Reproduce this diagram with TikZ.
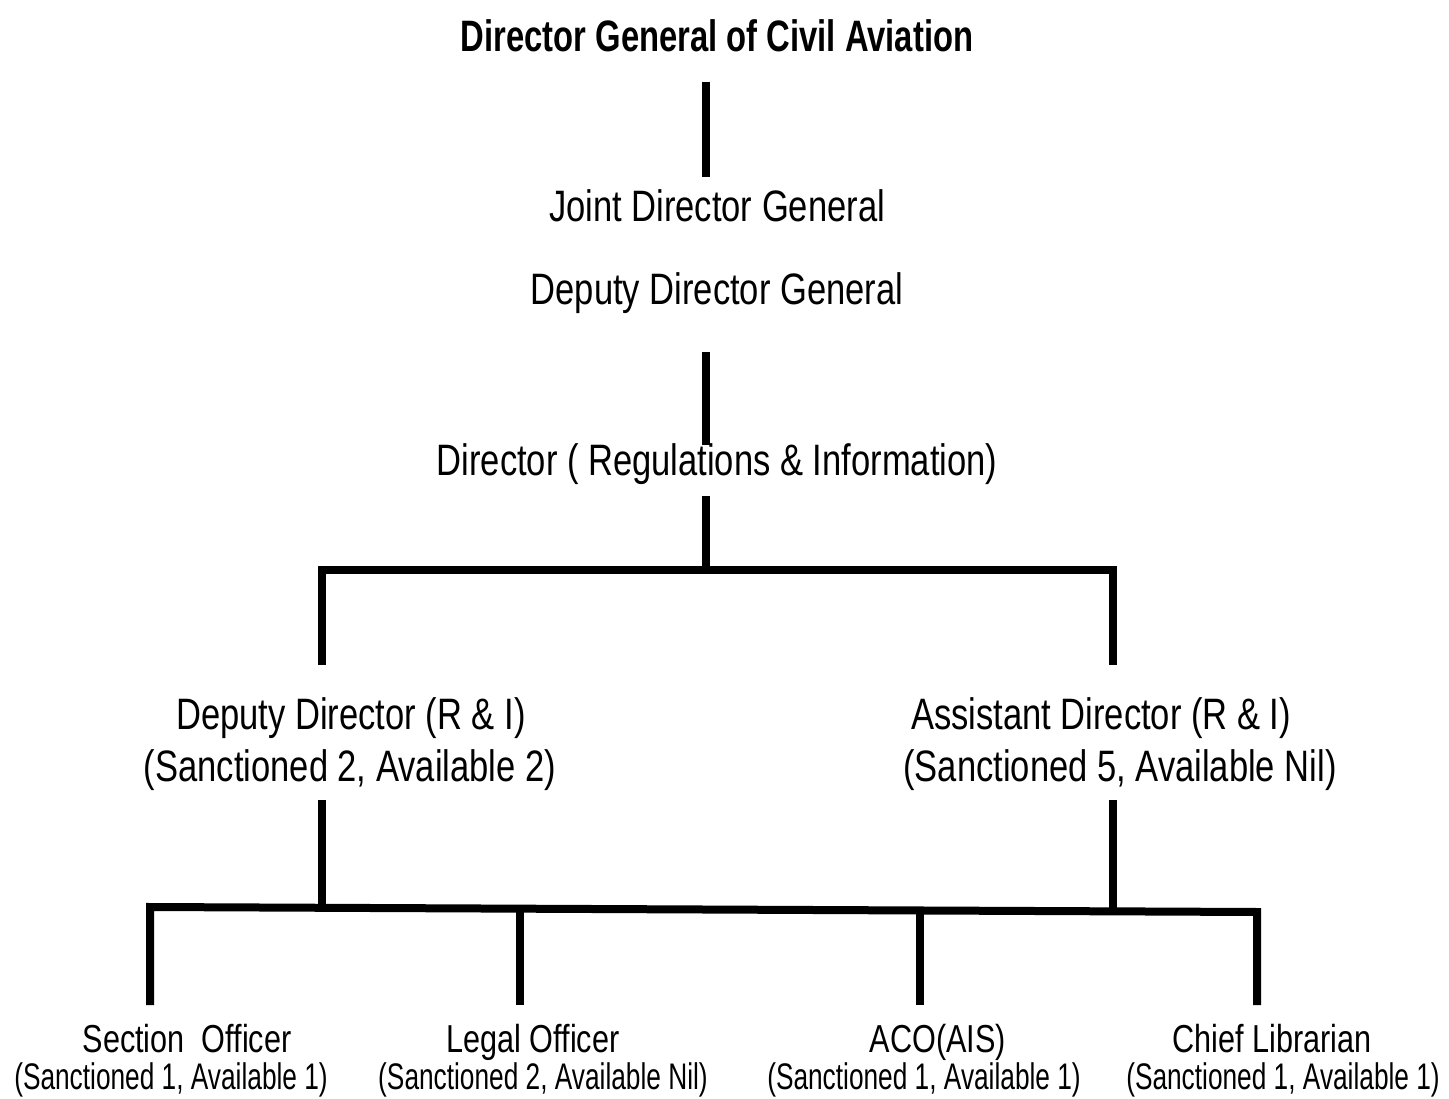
\documentclass[tikz,border=0pt]{standalone}
\usepackage{fontspec}
\setmainfont{Liberation Sans}[FakeStretch=0.785]
\newfontfamily\titlefont{Liberation Sans}[FakeStretch=0.745]
\newfontfamily\subfont{Liberation Sans}[FakeStretch=0.71]
\begin{document}
\begin{tikzpicture}[x=1pt,y=-1pt,
  txt/.style={inner sep=0pt, anchor=base, font=\fontsize{44}{50}\selectfont},
  lead/.style={inner sep=0pt, anchor=base, font=\fontsize{39}{44}\selectfont},
  small/.style={inner sep=0pt, anchor=base, font=\fontsize{37}{42}\selectfont\subfont},
  conn/.style={line width=8pt, line join=miter, line cap=butt}]
\useasboundingbox (0,0) rectangle (1449,1099);
% texts
\node[txt, font=\fontsize{44}{50}\selectfont\titlefont\bfseries] (dgca) at (717,52) {Director General of Civil Aviation};
\node[txt] (jdg) at (717,222) {Joint Director General};
\node[txt] (ddg) at (717,305) {Deputy Director General};
\node[txt] (dri) at (717,475) {Director ( Regulations \& Information)};
\node[txt] (ddri) at (351,729) {Deputy Director (R \& I)};
\node[txt] (ddri2) at (350,781) {(Sanctioned 2, Available 2)};
\node[txt] (adri) at (1101,729) {Assistant Director (R \& I)};
\node[txt] (adri2) at (1120,781) {(Sanctioned 5, Available Nil)};
\node[lead] (so) at (187,1052) {Section\ \ Officer};
\node[small] (so2) at (171,1089) {(Sanctioned 1, Available 1)};
\node[lead] (lo) at (533,1052) {Legal Officer};
\node[small] (lo2) at (543,1089) {(Sanctioned 2, Available Nil)};
\node[lead] (aco) at (938,1052) {ACO(AIS)};
\node[small] (aco2) at (924,1089) {(Sanctioned 1, Available 1)};
\node[lead] (cl) at (1272,1052) {Chief Librarian};
\node[small] (cl2) at (1283,1089) {(Sanctioned 1, Available 1)};
% connector coordinates
\coordinate (c1a) at (706,82);
\coordinate (c1b) at (706,177);
\coordinate (c2a) at (706,352);
\coordinate (c2b) at (706,445);
\coordinate (c3a) at (706,496);
\coordinate (c3b) at (706,570);
\coordinate (bl) at (322,570);
\coordinate (br) at (1113,570);
\coordinate (dl) at (322,665);
\coordinate (dr) at (1113,665);
\coordinate (ul) at (322,800);
\coordinate (ur) at (1113,800);
\coordinate (jl) at (322,908);
\coordinate (jr) at (1113,911);
\coordinate (b1t) at (150,907);
\coordinate (b1) at (150,1005);
\coordinate (b2t) at (520,909);
\coordinate (b2) at (520,1005);
\coordinate (b3t) at (920,911);
\coordinate (b3) at (920,1005);
\coordinate (b4t) at (1257,912);
\coordinate (b4) at (1257,1005);
% connectors
\draw[conn] (c1a) -- (c1b);
\draw[conn] (c2a) -- (c2b);
\draw[conn] (c3a) -- (c3b);
\draw[conn] (dl) -- (bl) -- (br) -- (dr);
\draw[conn] (ul) -- (jl);
\draw[conn] (ur) -- (jr);
\draw[conn] (b1) -- (b1t) -- (b4t) -- (b4);
\draw[conn] (b2t) -- (b2);
\draw[conn] (b3t) -- (b3);
\end{tikzpicture}
\end{document}
